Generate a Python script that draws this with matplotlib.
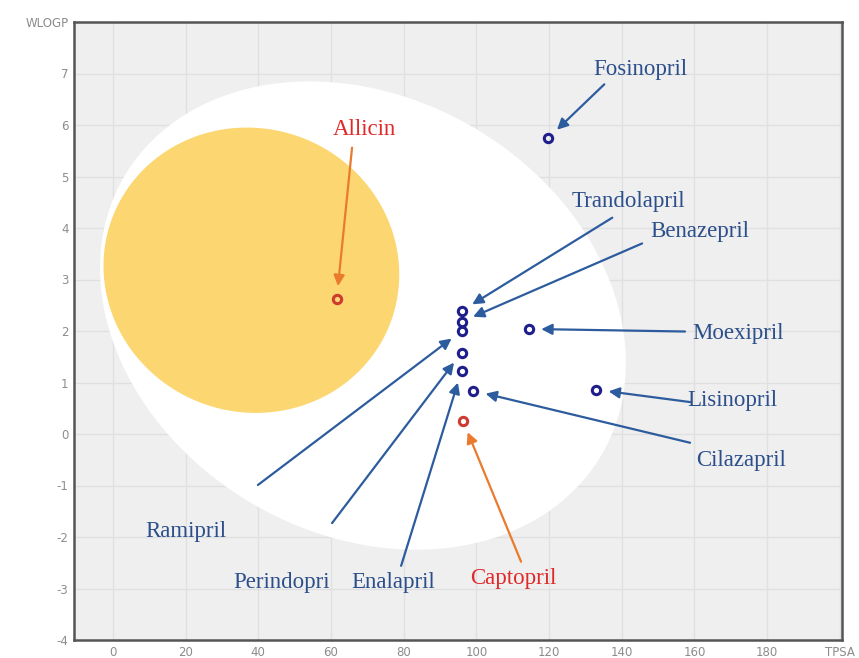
import numpy as np
import matplotlib
matplotlib.use("Agg")
import matplotlib.pyplot as plt

# compounds
names = ["Fosinopril", "Trandolapril", "Benazepril", "Ramipril", "Perindopri",
         "Enalapril", "Cilazapril", "Moexipril", "Lisinopril", "Allicin", "Captopril"]
tpsa = [119.7, 95.94, 95.94, 95.94, 95.94, 95.94, 99.18, 114.4, 132.96, 61.58, 96.3]
wlogp = [5.74, 2.39, 2.18, 2.00, 1.58, 1.23, 0.84, 2.04, 0.86, 2.63, 0.26]
is_red = [False] * 9 + [True, True]

# label placement (layout only)
label_xy = [(145.1, 7.08), (141.8, 4.51), (161.6, 3.93), (20.1, -1.90), (46.5, -2.89),
            (77.1, -2.89), (172.9, -0.52), (172.0, 1.95), (170.3, 0.66), (69.1, 5.91),
            (110.1, -2.80)]
arrow_tail = [(135.2, 6.79), (137.4, 4.20), (145.6, 3.70), (39.9, -0.99), (60.3, -1.73),
              (79.3, -2.56), (158.8, -0.17), (157.4, 1.99), (158.8, 0.62), (65.8, 5.56),
              (112.3, -2.48)]

xticks = list(range(0, 200, 20))
yticks = list(range(-4, 8))

ASPECT = 14.16  # one WLOGP unit drawn as long as this many TPSA units


def ellipse(cx, cy, a, b, ang):
    # a, b in TPSA units, ang in degrees, rotated in the visual (equal-length) frame
    t = np.linspace(0, 2 * np.pi, 400)
    r = np.deg2rad(ang)
    du = a * np.cos(t) * np.cos(r) - b * np.sin(t) * np.sin(r)
    dv = a * np.cos(t) * np.sin(r) + b * np.sin(t) * np.cos(r)
    return cx + du, cy + dv / ASPECT


fig = plt.figure(figsize=(8.59, 6.58), dpi=100)
ax = fig.add_axes([74 / 859, 1 - 640 / 658, 768 / 859, 618 / 658])
ax.set_facecolor("#efefef")
ax.set_xlim(-10.7, 200.6)
ax.set_ylim(-4, 8)

wx, wy = ellipse(68.8, 2.30, 76.0, 60.0, -30)
ax.fill(wx, wy, color="white", zorder=1, lw=0)
yx, yy = ellipse(38.1, 3.18, 40.9, 39.0, -20)
ax.fill(yx, yy, color="#fcd670", zorder=2, lw=0)

ax.set_xticks(xticks + [200])
ax.set_xticklabels([str(v) for v in xticks] + ["TPSA"])
ax.set_yticks(yticks + [8])
ax.set_yticklabels([str(v) for v in yticks] + ["WLOGP"])
ax.tick_params(length=0, labelsize=8.5, labelcolor="#8c8c8c", pad=4)
ax.grid(True, color="#e0e0e0", lw=1, zorder=0)
ax.set_axisbelow(True)
for s in ax.spines.values():
    s.set_color("#555555")
    s.set_linewidth(1.8)

blue_txt, red_txt = "#2c4f8c", "#e02a2a"
blue_arr, red_arr = "#2d5c9e", "#ea7a2c"
for i, name in enumerate(names):
    red = is_red[i]
    ax.plot(tpsa[i], wlogp[i], "o", ms=6, mfc="none", mew=2.2,
            mec="#cc3a30" if red else "#1e1e8c", zorder=5)
    ax.text(label_xy[i][0], label_xy[i][1], name, ha="center", va="center",
            fontsize=16.5, family="Liberation Serif",
            color=red_txt if red else blue_txt, zorder=6)
    ax.annotate("", xy=(tpsa[i], wlogp[i]), xytext=arrow_tail[i],
                arrowprops=dict(arrowstyle="-|>", color=red_arr if red else blue_arr,
                                lw=1.6, mutation_scale=16, shrinkA=0, shrinkB=9),
                zorder=4)

fig.savefig("out.png", dpi=100)
